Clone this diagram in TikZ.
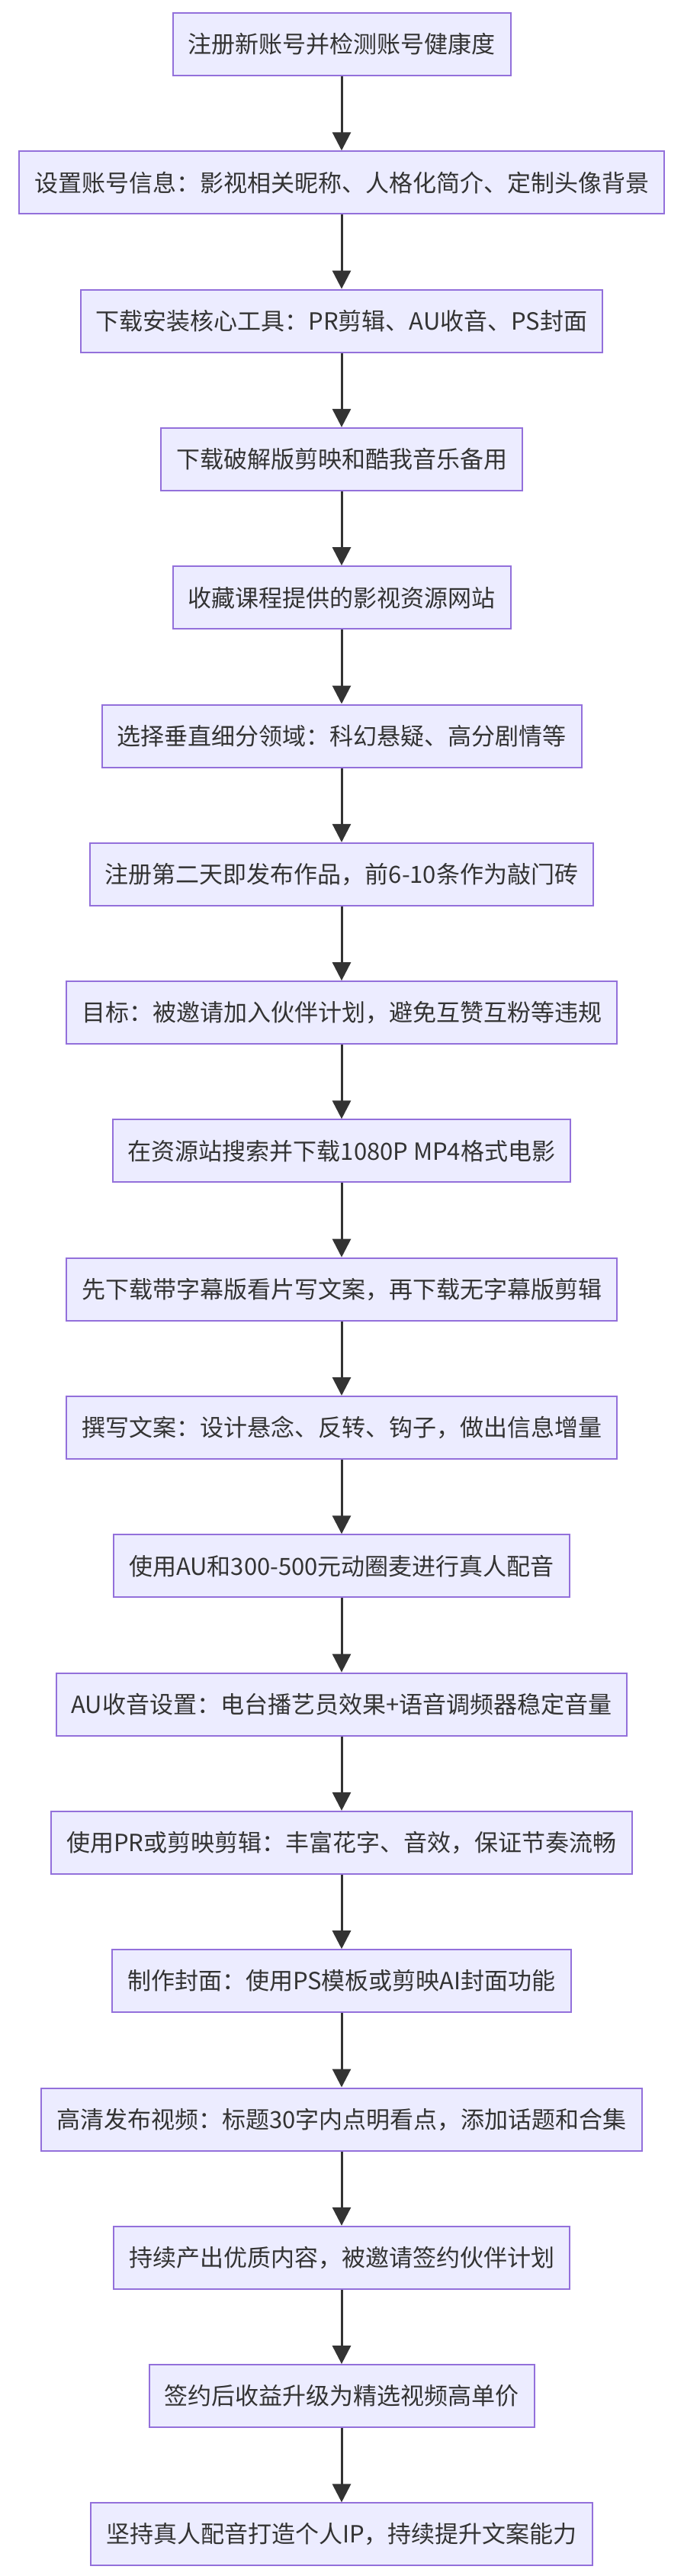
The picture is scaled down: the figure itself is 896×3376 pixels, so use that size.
\documentclass[tikz,border=0pt]{standalone}
\usepackage{fontspec}
\newfontfamily\cjk{Noto Sans CJK SC}
\usetikzlibrary{arrows.meta}
\definecolor{BoxFill}{HTML}{ECECFF}
\definecolor{BoxLine}{HTML}{9370DB}
\definecolor{TextGray}{HTML}{333333}

\begin{document}
\begin{tikzpicture}[x=0.5pt,y=0.5pt,
  stepbox/.style={draw=BoxLine,line width=1pt,fill=BoxFill,text=TextGray,
    font=\cjk\fontsize{15.5}{18}\selectfont,minimum height=41pt,inner xsep=10pt,inner ysep=0pt},
  flow/.style={draw=TextGray,line width=1.5pt,-{Triangle[length=12pt,width=12pt]}}]
  \useasboundingbox (0,0) rectangle (896,-3376);
  \foreach \txt [count=\j from 0] in {
    {注册新账号并检测账号健康度},
    {设置账号信息：影视相关昵称、人格化简介、定制头像背景},
    {下载安装核心工具：PR剪辑、AU收音、PS封面},
    {下载破解版剪映和酷我音乐备用},
    {收藏课程提供的影视资源网站},
    {选择垂直细分领域：科幻悬疑、高分剧情等},
    {注册第二天即发布作品，前6-10条作为敲门砖},
    {目标：被邀请加入伙伴计划，避免互赞互粉等违规},
    {在资源站搜索并下载1080P MP4格式电影},
    {先下载带字幕版看片写文案，再下载无字幕版剪辑},
    {撰写文案：设计悬念、反转、钩子，做出信息增量},
    {使用AU和300-500元动圈麦进行真人配音},
    {AU收音设置：电台播艺员效果+语音调频器稳定音量},
    {使用PR或剪映剪辑：丰富花字、音效，保证节奏流畅},
    {制作封面：使用PS模板或剪映AI封面功能},
    {高清发布视频：标题30字内点明看点，添加话题和合集},
    {持续产出优质内容，被邀请签约伙伴计划},
    {签约后收益升级为精选视频高单价},
    {坚持真人配音打造个人IP，持续提升文案能力}} {
    \node[stepbox] (S\j) at (448,{-58-181.3*\j}) {\txt};
  }
  \foreach \j in {0,...,17} {
    \pgfmathtruncatemacro{\jp}{\j+1}
    \draw[flow] (S\j) -- (S\jp);
  }
\end{tikzpicture}
\end{document}
